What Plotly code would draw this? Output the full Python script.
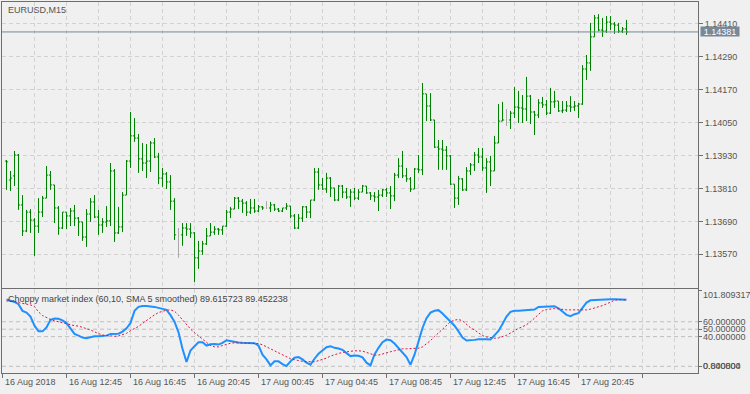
import plotly.graph_objects as go

# ---------------- data (EURUSD M15, 16 Aug 2018 09:00 .. 17 Aug 2018 23:45) ----------------
opens = [
 1.13910, 1.13841, 1.13856, 1.13932, 1.13750, 1.13655, 1.13724, 1.13695, 1.13673, 1.13724,
 1.13775, 1.13859, 1.13823, 1.13739, 1.13666, 1.13724, 1.13710, 1.13728, 1.13702, 1.13688,
 1.13633, 1.13717, 1.13761, 1.13706, 1.13677, 1.13688, 1.13692, 1.13874, 1.13648, 1.13670,
 1.13786, 1.13910, 1.14002, 1.13994, 1.13918, 1.13903, 1.13910, 1.13976, 1.13925, 1.13848,
 1.13863, 1.13834, 1.13764, 1.13641, 1.13641, 1.13666, 1.13662, 1.13648, 1.13557, 1.13582,
 1.13608, 1.13637, 1.13651, 1.13662, 1.13659, 1.13673, 1.13724, 1.13735, 1.13775, 1.13764,
 1.13757, 1.13724, 1.13739, 1.13728, 1.13743, 1.13739, 1.13739, 1.13750, 1.13735, 1.13728,
 1.13739, 1.13746, 1.13710, 1.13666, 1.13702, 1.13743, 1.13724, 1.13768, 1.13870, 1.13823,
 1.13808, 1.13848, 1.13812, 1.13768, 1.13819, 1.13797, 1.13779, 1.13797, 1.13775, 1.13797,
 1.13819, 1.13794, 1.13783, 1.13779, 1.13786, 1.13805, 1.13794, 1.13783, 1.13859, 1.13892,
 1.13856, 1.13845, 1.13808, 1.13881, 1.13878, 1.14155, 1.14111, 1.14060, 1.13961, 1.13954,
 1.13950, 1.13929, 1.13826, 1.13775, 1.13845, 1.13805, 1.13874, 1.13896, 1.13932, 1.13925,
 1.13885, 1.13907, 1.13874, 1.13976, 1.14056, 1.14060, 1.14060, 1.14085, 1.14107, 1.14104,
 1.14100, 1.14147, 1.14089, 1.14078, 1.14122, 1.14115, 1.14085, 1.14126, 1.14129, 1.14093,
 1.14096, 1.14111, 1.14107, 1.14111, 1.14118, 1.14246, 1.14268, 1.14363, 1.14432, 1.14388,
 1.14384, 1.14417, 1.14410, 1.14406, 1.14384, 1.14392]
highs = [
 1.13914, 1.13874, 1.13947, 1.13936, 1.13786, 1.13732, 1.13735, 1.13702, 1.13775, 1.13783,
 1.13892, 1.13874, 1.13823, 1.13746, 1.13724, 1.13724, 1.13739, 1.13750, 1.13706, 1.13688,
 1.13735, 1.13775, 1.13786, 1.13732, 1.13702, 1.13746, 1.13903, 1.13881, 1.13743, 1.13797,
 1.13914, 1.14089, 1.14067, 1.14009, 1.13976, 1.13972, 1.13983, 1.13994, 1.13940, 1.13885,
 1.13870, 1.13859, 1.13775, 1.13666, 1.13684, 1.13684, 1.13684, 1.13651, 1.13619, 1.13619,
 1.13666, 1.13684, 1.13673, 1.13666, 1.13673, 1.13732, 1.13743, 1.13779, 1.13779, 1.13772,
 1.13764, 1.13772, 1.13772, 1.13750, 1.13746, 1.13764, 1.13761, 1.13754, 1.13739, 1.13739,
 1.13757, 1.13746, 1.13717, 1.13717, 1.13746, 1.13746, 1.13768, 1.13885, 1.13885, 1.13848,
 1.13867, 1.13852, 1.13812, 1.13823, 1.13823, 1.13812, 1.13808, 1.13812, 1.13808, 1.13823,
 1.13819, 1.13797, 1.13797, 1.13805, 1.13808, 1.13812, 1.13819, 1.13867, 1.13921, 1.13947,
 1.13885, 1.13852, 1.13885, 1.13932, 1.14195, 1.14155, 1.14158, 1.14060, 1.13987, 1.13987,
 1.13965, 1.13932, 1.13826, 1.13856, 1.13848, 1.13888, 1.13903, 1.13943, 1.13958, 1.13958,
 1.13921, 1.13929, 1.14002, 1.14118, 1.14126, 1.14100, 1.14093, 1.14180, 1.14166, 1.14151,
 1.14217, 1.14151, 1.14093, 1.14136, 1.14144, 1.14133, 1.14177, 1.14166, 1.14129, 1.14129,
 1.14129, 1.14147, 1.14129, 1.14122, 1.14260, 1.14297, 1.14414, 1.14443, 1.14446, 1.14432,
 1.14439, 1.14439, 1.14417, 1.14414, 1.14399, 1.14425]
lows = [
 1.13805, 1.13801, 1.13819, 1.13732, 1.13637, 1.13651, 1.13648, 1.13564, 1.13648, 1.13706,
 1.13775, 1.13805, 1.13684, 1.13641, 1.13662, 1.13662, 1.13673, 1.13673, 1.13637, 1.13619,
 1.13597, 1.13688, 1.13702, 1.13641, 1.13648, 1.13670, 1.13673, 1.13615, 1.13644, 1.13651,
 1.13786, 1.13885, 1.13980, 1.13867, 1.13874, 1.13848, 1.13870, 1.13921, 1.13826, 1.13816,
 1.13808, 1.13732, 1.13622, 1.13557, 1.13601, 1.13637, 1.13630, 1.13469, 1.13517, 1.13568,
 1.13604, 1.13637, 1.13641, 1.13641, 1.13641, 1.13670, 1.13702, 1.13735, 1.13735, 1.13721,
 1.13710, 1.13717, 1.13721, 1.13724, 1.13732, 1.13735, 1.13724, 1.13728, 1.13724, 1.13724,
 1.13732, 1.13702, 1.13662, 1.13662, 1.13688, 1.13702, 1.13702, 1.13764, 1.13805, 1.13805,
 1.13794, 1.13779, 1.13764, 1.13764, 1.13775, 1.13772, 1.13743, 1.13768, 1.13768, 1.13797,
 1.13790, 1.13768, 1.13761, 1.13728, 1.13779, 1.13779, 1.13735, 1.13764, 1.13848, 1.13848,
 1.13834, 1.13797, 1.13808, 1.13867, 1.13859, 1.14056, 1.14056, 1.13958, 1.13878, 1.13878,
 1.13878, 1.13823, 1.13739, 1.13750, 1.13801, 1.13801, 1.13859, 1.13874, 1.13903, 1.13874,
 1.13794, 1.13819, 1.13874, 1.13976, 1.14056, 1.14038, 1.14027, 1.14067, 1.14049, 1.14049,
 1.14056, 1.14045, 1.14005, 1.14067, 1.14104, 1.14078, 1.14082, 1.14104, 1.14089, 1.14085,
 1.14089, 1.14089, 1.14093, 1.14067, 1.14115, 1.14206, 1.14239, 1.14363, 1.14384, 1.14363,
 1.14377, 1.14388, 1.14374, 1.14377, 1.14377, 1.14370]
closes = [
 1.13907, 1.13848, 1.13932, 1.13750, 1.13655, 1.13724, 1.13695, 1.13673, 1.13724, 1.13775,
 1.13859, 1.13823, 1.13739, 1.13666, 1.13724, 1.13710, 1.13728, 1.13702, 1.13688, 1.13633,
 1.13717, 1.13761, 1.13706, 1.13677, 1.13688, 1.13692, 1.13874, 1.13648, 1.13670, 1.13786,
 1.13910, 1.14002, 1.13994, 1.13918, 1.13903, 1.13910, 1.13976, 1.13925, 1.13848, 1.13863,
 1.13834, 1.13764, 1.13641, 1.13641, 1.13666, 1.13662, 1.13648, 1.13557, 1.13582, 1.13608,
 1.13637, 1.13651, 1.13662, 1.13659, 1.13673, 1.13724, 1.13735, 1.13775, 1.13764, 1.13757,
 1.13724, 1.13739, 1.13728, 1.13743, 1.13739, 1.13739, 1.13750, 1.13735, 1.13728, 1.13739,
 1.13746, 1.13710, 1.13666, 1.13702, 1.13743, 1.13724, 1.13768, 1.13870, 1.13823, 1.13808,
 1.13848, 1.13812, 1.13768, 1.13819, 1.13797, 1.13779, 1.13797, 1.13775, 1.13797, 1.13819,
 1.13794, 1.13783, 1.13779, 1.13786, 1.13805, 1.13794, 1.13783, 1.13859, 1.13892, 1.13856,
 1.13845, 1.13808, 1.13881, 1.13878, 1.14155, 1.14111, 1.14060, 1.13961, 1.13954, 1.13950,
 1.13929, 1.13826, 1.13775, 1.13845, 1.13805, 1.13874, 1.13896, 1.13932, 1.13925, 1.13885,
 1.13907, 1.13874, 1.13976, 1.14056, 1.14060, 1.14060, 1.14085, 1.14107, 1.14104, 1.14100,
 1.14147, 1.14089, 1.14078, 1.14122, 1.14115, 1.14085, 1.14126, 1.14129, 1.14093, 1.14096,
 1.14111, 1.14107, 1.14111, 1.14118, 1.14246, 1.14268, 1.14363, 1.14432, 1.14388, 1.14384,
 1.14417, 1.14410, 1.14406, 1.14384, 1.14392, 1.14381]

# Choppy market index (60,10) and its SMA 5 smoothed signal
chop_main = [
 90.2, 88.9, 86.7, 83.6, 74.7, 72.4, 67.1, 54.7, 47.1, 47.1,
 52.4, 62.7, 64.4, 64.0, 61.8, 58.2, 51.6, 43.6, 41.3, 38.7,
 37.8, 39.1, 40.4, 40.4, 40.4, 41.3, 43.6, 43.6, 44.0, 46.7,
 51.1, 58.2, 74.7, 80.0, 81.3, 81.3, 80.9, 80.0, 78.7, 77.8,
 76.0, 68.9, 60.0, 45.8, 23.6, 5.8, 21.3, 27.1, 32.4, 32.4,
 28.0, 29.8, 30.2, 29.3, 31.6, 35.1, 33.8, 32.4, 32.0, 31.6,
 31.6, 31.1, 31.1, 28.0, 15.6, 9.3, 1.3, 6.7, 6.7, 3.1,
 0.4, 6.7, 11.6, 12.4, 9.3, 4.9, 2.2, 10.2, 16.9, 21.3,
 25.8, 27.1, 24.9, 24.0, 22.2, 17.8, 13.8, 14.7, 14.2, 12.0,
 4.9, 1.3, 16.0, 24.9, 32.4, 36.0, 35.1, 30.7, 24.4, 19.1,
 12.4, 2.2, 15.6, 33.3, 51.6, 64.9, 72.4, 74.7, 75.6, 71.1,
 65.3, 60.0, 54.7, 47.1, 38.7, 34.7, 34.7, 35.6, 36.4, 36.9,
 36.4, 36.0, 42.2, 47.6, 56.9, 67.1, 73.3, 74.7, 74.7, 75.1,
 75.6, 76.0, 76.4, 80.0, 80.4, 80.4, 80.4, 80.9, 78.2, 73.8,
 69.3, 67.6, 70.2, 71.6, 78.2, 85.8, 88.9, 89.3, 89.8, 89.8,
 89.8, 90.2, 90.2, 90.2, 89.9, 89.615723]
chop_signal = [
 88.0, 88.0, 87.1, 85.8, 84.9, 84.0, 82.7, 80.4, 73.3, 68.4,
 65.3, 63.1, 61.3, 60.0, 58.7, 56.9, 55.1, 54.7, 54.2, 52.9,
 50.7, 48.9, 46.2, 44.0, 42.2, 41.3, 40.4, 40.4, 40.9, 42.2,
 44.4, 48.0, 50.7, 53.8, 57.8, 61.8, 65.8, 69.3, 72.4, 74.2,
 75.6, 76.0, 74.2, 68.9, 62.2, 55.6, 50.2, 45.3, 40.9, 36.9,
 32.0, 28.0, 26.2, 26.2, 28.0, 29.8, 31.1, 31.6, 31.6, 31.6,
 31.6, 31.6, 31.6, 30.7, 28.9, 26.2, 23.6, 20.9, 18.2, 15.6,
 12.9, 10.2, 8.9, 7.6, 6.7, 6.2, 5.8, 6.2, 7.6, 9.3,
 11.1, 13.8, 16.0, 17.3, 18.7, 19.6, 20.4, 20.9, 20.9, 20.4,
 18.7, 16.9, 15.1, 15.1, 16.9, 18.2, 19.6, 20.9, 22.2, 23.6,
 23.6, 23.6, 23.6, 24.4, 26.2, 30.2, 34.7, 40.0, 45.3, 50.7,
 56.0, 60.0, 62.2, 63.1, 61.3, 56.9, 52.0, 48.9, 45.3, 41.3,
 39.6, 38.7, 37.8, 38.2, 39.6, 41.8, 44.9, 48.4, 51.1, 53.3,
 56.0, 60.0, 65.3, 70.2, 74.7, 76.4, 77.3, 77.8, 77.3, 76.4,
 76.0, 76.0, 76.0, 76.0, 75.6, 76.0, 76.9, 78.2, 80.0, 81.8,
 84.0, 86.7, 88.9, 89.8, 89.6, 89.452238]

price_ticks = [1.13570, 1.13690, 1.13810, 1.13930, 1.14050, 1.14170, 1.14290, 1.14410]
time_labels = ["16 Aug 2018", "16 Aug 12:45", "16 Aug 16:45", "16 Aug 20:45", "17 Aug 00:45",
               "17 Aug 04:45", "17 Aug 08:45", "17 Aug 12:45", "17 Aug 16:45", "17 Aug 20:45"]
bars_per_label = 16
levels = [60, 50, 40, 0]
ind_max = 101.809317
ind_min = 0.840804
current_price = 1.14381
symbol_title = "EURUSD,M15"
ind_title = "Choppy market index (60,10, SMA 5 smoothed) 89.615723 89.452238"

# ---------------- figure ----------------
W, H = 750, 394
def fx(px):
    return px / W
def fy(py):
    return 1 - py / H

FONT = "Liberation Sans, Arial, sans-serif"
TXT = "#555555"
FRAME = "#6e6e6e"
GRID = "#d2d2d2"
GREEN = "#008000"

n = len(opens)
bar_index = list(range(1, n + 1))
x_range = [-0.125, 173.875]

main_i = [i for i in range(n) if opens[i] != closes[i]]
doji_i = [i for i in range(n) if opens[i] == closes[i]]

fig = go.Figure()
fig.add_trace(go.Ohlc(
    x=[bar_index[i] for i in main_i],
    open=[opens[i] for i in main_i], high=[highs[i] for i in main_i],
    low=[lows[i] for i in main_i], close=[closes[i] for i in main_i],
    increasing=dict(line=dict(color=GREEN, width=1)),
    decreasing=dict(line=dict(color=GREEN, width=1)),
    tickwidth=0.4, hoverinfo="skip", xaxis="x", yaxis="y"))
if doji_i:
    dx = [bar_index[i] for i in doji_i]
    gaps = [b - a for a, b in zip(dx[:-1], dx[1:])] or [1]
    fig.add_trace(go.Ohlc(
        x=dx,
        open=[opens[i] for i in doji_i], high=[highs[i] for i in doji_i],
        low=[lows[i] for i in doji_i], close=[closes[i] for i in doji_i],
        increasing=dict(line=dict(color="#a8a8a8", width=1)),
        decreasing=dict(line=dict(color="#a8a8a8", width=1)),
        tickwidth=0.4 / min(gaps), hoverinfo="skip", xaxis="x", yaxis="y"))

fig.add_trace(go.Scatter(x=bar_index, y=chop_main, mode="lines",
                         line=dict(color="#1E90FF", width=2), hoverinfo="skip",
                         xaxis="x2", yaxis="y2"))
fig.add_trace(go.Scatter(x=bar_index, y=chop_signal, mode="lines",
                         line=dict(color="#DC143C", width=1, dash="2px,2px"), hoverinfo="skip",
                         xaxis="x2", yaxis="y2"))

dom_x = [fx(2), fx(698)]
axis_common = dict(showline=True, linecolor=FRAME, linewidth=1, mirror=True,
                   zeroline=False, fixedrange=True, automargin=False)

fig.update_layout(
    width=W, height=H, margin=dict(l=0, r=0, t=0, b=0, autoexpand=False),
    paper_bgcolor="#f0f0f0", plot_bgcolor="#f0f0f0", showlegend=False,
    xaxis=dict(domain=dom_x, range=x_range, anchor="y",
               tickmode="array", tickvals=list(range(0, 174, 8)),
               showticklabels=False, ticks="",
               showgrid=True, gridcolor=GRID, gridwidth=1, griddash="4px,3px",
               rangeslider=dict(visible=False), **axis_common),
    yaxis=dict(domain=[fy(287.5), fy(2)], range=[1.134490, 1.144902], anchor="x",
               side="right", tickmode="array", tickvals=price_ticks,
               ticktext=[f"{v:.5f}" for v in price_ticks],
               ticks="outside", ticklen=4, tickcolor=FRAME,
               tickfont=dict(family=FONT, size=9, color=TXT),
               showgrid=True, gridcolor=GRID, gridwidth=1, griddash="4px,3px",
               **axis_common),
    xaxis2=dict(domain=dom_x, range=x_range, anchor="y2",
                tickmode="array", tickvals=list(range(0, 174, bars_per_label)),
                showticklabels=False, ticks="outside", ticklen=4, tickcolor=FRAME,
                showgrid=True, gridcolor=GRID, gridwidth=1, griddash="4px,3px",
                minor=dict(tickmode="array", tickvals=list(range(8, 174, bars_per_label)),
                           showgrid=True, gridcolor=GRID, gridwidth=1, griddash="4px,3px",
                           ticks=""),
                **axis_common),
    yaxis2=dict(domain=[fy(373.3), fy(289.3)], range=[-9.4, 103.7], anchor="x2",
                side="right", tickmode="array", tickvals=[ind_max] + levels,
                showticklabels=False, ticks="outside", ticklen=3, tickcolor=FRAME,
                showgrid=False, **axis_common),
)

# indicator level lines
for lv in levels:
    fig.add_shape(type="line", xref="paper", yref="y2", x0=dom_x[0], x1=dom_x[1],
                  y0=lv, y1=lv, line=dict(color="#bebebe", width=1, dash="4px,3px"),
                  layer="below")

# current price line + label
fig.add_shape(type="line", xref="paper", yref="y", x0=dom_x[0], x1=dom_x[1],
              y0=current_price, y1=current_price, line=dict(color="#778899", width=1))
fig.add_annotation(x=fx(700), xref="paper", y=current_price, yref="y",
                   text=f"{current_price:.5f}", showarrow=False, xanchor="left",
                   yanchor="middle", bgcolor="#778899", borderpad=0,
                   width=38, height=9, align="center", valign="middle",
                   font=dict(family=FONT, size=9, color="white"))

# titles
fig.add_annotation(x=fx(6), xref="paper", y=fy(9.5), yref="paper", text=symbol_title,
                   showarrow=False, xanchor="left", yanchor="middle",
                   font=dict(family=FONT, size=9, color=TXT))
fig.add_annotation(x=fx(6), xref="paper", y=fy(298.5), yref="paper", text=ind_title,
                   showarrow=False, xanchor="left", yanchor="middle",
                   font=dict(family=FONT, size=9, color="#444444"))

# indicator axis labels
fig.add_annotation(x=fx(701), xref="paper", y=fy(295), yref="paper",
                   text=f"{ind_max:.6f}", showarrow=False, xanchor="left", yanchor="middle",
                   font=dict(family=FONT, size=9, color=TXT))
for lv in levels[:3]:
    fig.add_annotation(x=fx(701), xref="paper", y=lv, yref="y2",
                       text=f"{lv:.6f}", showarrow=False, xanchor="left", yanchor="middle",
                       font=dict(family=FONT, size=9, color=TXT))
for val in (0.0, ind_min):
    fig.add_annotation(x=fx(701), xref="paper", y=0, yref="y2",
                       text=f"{val:.6f}", showarrow=False, xanchor="left", yanchor="middle",
                       font=dict(family=FONT, size=9, color=TXT))

# time labels
for k, lab in enumerate(time_labels):
    fig.add_annotation(x=k * bars_per_label, xref="x2", y=fy(382), yref="paper",
                       text=lab, showarrow=False, xanchor="left", yanchor="middle",
                       font=dict(family=FONT, size=9, color=TXT))

fig.write_html("out.html",
               config={"displayModeBar": False},
               post_script="document.body.style.margin='0px';"
                           "document.body.style.padding='0px';"
                           "document.body.style.overflow='hidden';")
